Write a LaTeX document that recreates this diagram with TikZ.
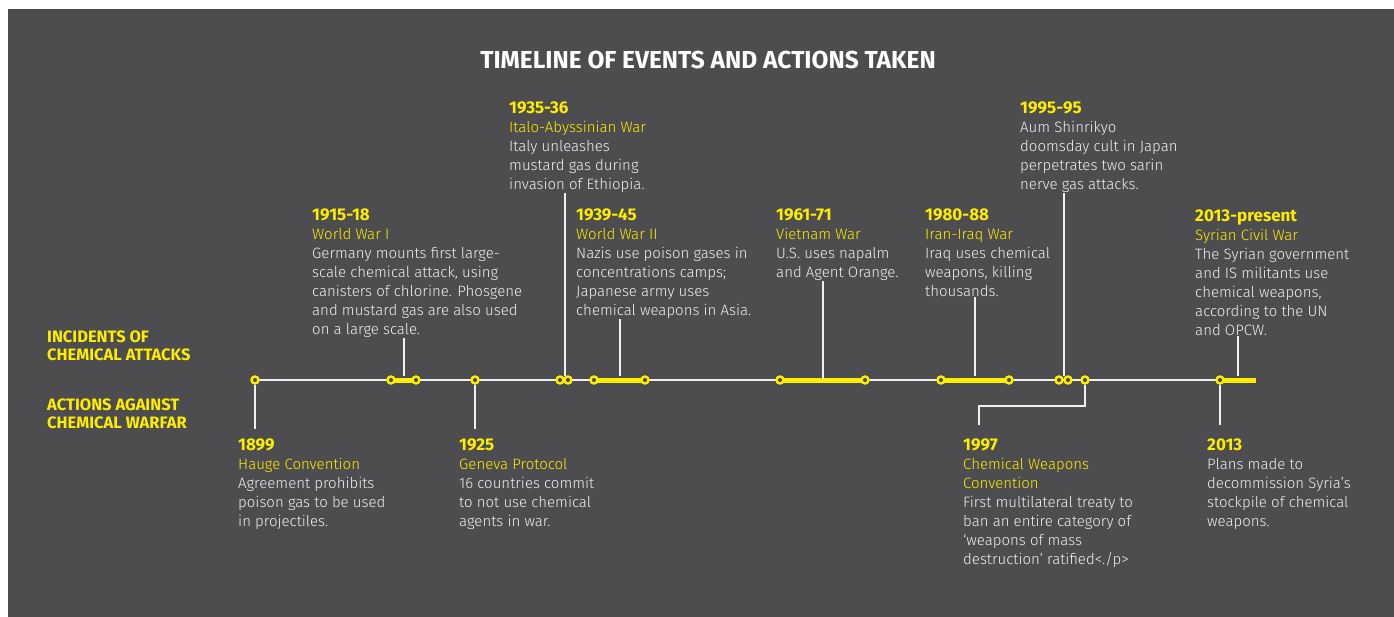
\documentclass[tikz,border=0pt]{standalone}
\usepackage{fontspec}
\setmainfont{Fira Sans Light}[BoldFont={Fira Sans Bold}]
\definecolor{bgdark}{RGB}{77,77,79}
\definecolor{hiyellow}{RGB}{255,237,0}
\definecolor{txtwhite}{RGB}{240,240,240}
\newcommand\yr[1]{{\fontsize{17}{19}\selectfont\textbf{\textcolor{hiyellow}{#1}}}}
\newcommand\ttl[1]{\textcolor{hiyellow}{#1}}
\begin{document}
\begin{tikzpicture}[x=1pt, y=-1pt,
	ring/.style={circle, draw=hiyellow, fill=bgdark, line width=2.4pt, minimum size=7pt, inner sep=0pt},
	axis/.style={draw=txtwhite, line width=1.5pt},
	bar/.style={draw=hiyellow, line width=5pt},
	link/.style={draw=txtwhite, line width=1.3pt},
	evt/.style={anchor=north west, align=left, inner sep=0pt, text=txtwhite, font=\fontsize{15}{19}\selectfont},
	side/.style={anchor=north west, align=left, inner sep=0pt, text=hiyellow, font=\bfseries\fontsize{16.5}{18}\selectfont}]
		\useasboundingbox (0,0) rectangle (1394,617);
		\fill[bgdark] (8,9) rectangle (1394,617);
		
		\node[text=white, font=\bfseries\fontsize{24.5}{28}\selectfont] (title) at (708,60) {TIMELINE OF EVENTS AND ACTIONS TAKEN};
		\node[side] (inc) at (47,331) {INCIDENTS OF\\CHEMICAL ATTACKS};
		\node[side] (act) at (47,399) {ACTIONS AGAINST\\CHEMICAL WARFAR};
		
		\foreach \x/\n in {255/1, 391/2, 416/3, 475/4, 560/5, 568/6, 594/7, 645/8, 780/9, 865/10, 941/11, 1009/12, 1059/13, 1068/14, 1085/15, 1220/16}
		{
			\coordinate (a\n) at (\x,380);
		}
		\coordinate (aend) at (1256,380);
		\draw[axis] (a1) -- (a16);
		\foreach \a/\b in {a2/a3, a7/a8, a9/a10, a11/a12, a16/aend}
		{
			\draw[bar] (\a) -- (\b);
		}
		\foreach \n in {1,...,16}
		{
			\node[ring] (c\n) at (a\n) {};
		}
		
		\node[evt] (n1915) at (312,209) {\yr{1915-18}\\\ttl{World War I}\\Germany mounts first large-\\scale chemical attack, using\\canisters of chlorine. Phosgene\\and mustard gas are also used\\on a large scale.};
		\node[evt] (n1935) at (509,102) {\yr{1935-36}\\\ttl{Italo-Abyssinian War}\\Italy unleashes\\mustard gas during\\invasion of Ethiopia.};
		\node[evt] (n1939) at (576,209) {\yr{1939-45}\\\ttl{World War II}\\Nazis use poison gases in\\concentrations camps;\\Japanese army uses\\chemical weapons in Asia.};
		\node[evt] (n1961) at (776,209) {\yr{1961-71}\\\ttl{Vietnam War}\\U.S. uses napalm\\and Agent Orange.};
		\node[evt] (n1980) at (925,209) {\yr{1980-88}\\\ttl{Iran-Iraq War}\\Iraq uses chemical\\weapons, killing\\thousands.};
		\node[evt] (n1995) at (1020,102) {\yr{1995-95}\\Aum Shinrikyo\\doomsday cult in Japan\\perpetrates two sarin\\nerve gas attacks.};
		\node[evt] (n2013p) at (1195,210) {\yr{2013-present}\\\ttl{Syrian Civil War}\\The Syrian government\\and IS militants use\\chemical weapons,\\according to the UN\\and OPCW.};
		
		\node[evt] (n1899) at (238,439) {\yr{1899}\\\ttl{Hauge Convention}\\Agreement prohibits\\poison gas to be used\\in projectiles.};
		\node[evt] (n1925) at (459,439) {\yr{1925}\\\ttl{Geneva Protocol}\\16 countries commit\\to not use chemical\\agents in war.};
		\node[evt] (n1997) at (963,439) {\yr{1997}\\\ttl{Chemical Weapons}\\\ttl{Convention}\\First multilateral treaty to\\ban an entire category of\\‘weapons of mass\\destruction’ ratified<./p>};
		\node[evt] (n2013) at (1207,439) {\yr{2013}\\Plans made to\\decommission Syria’s\\stockpile of chemical\\weapons.};
		
		\foreach \n/\x/\y in {n1915/404/376, n1935/565/376, n1939/620/376, n1961/823/379, n1980/975/376, n1995/1064/376, n2013p/1238/376}
		{
			\coordinate (t\n) at (\x,\y);
			\draw[link] (\n.south -| t\n) -- (t\n);
		}
		\draw[link] (c1.south) -- ([yshift=10pt]n1899.north -| c1);
		\draw[link] (c4.south) -- ([yshift=10pt]n1925.north -| c4);
		\coordinate (k97) at (979,406);
		\draw[link] (c15.south) |- (k97) -- ([yshift=14pt]n1997.north -| k97);
		\draw[link] (c16.south) -- ([yshift=14pt]n2013.north -| c16);
		
	\end{tikzpicture}
\end{document}
